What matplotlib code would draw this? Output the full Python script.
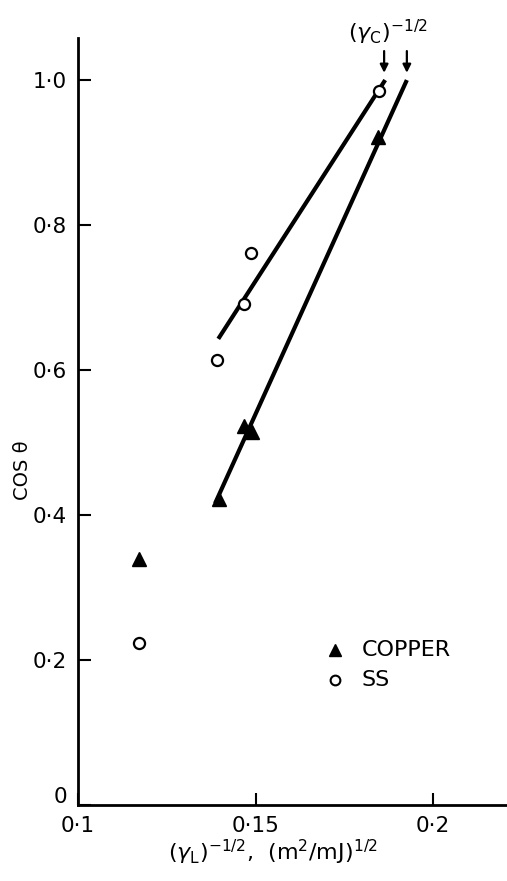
import matplotlib
matplotlib.use("Agg")
import matplotlib.pyplot as plt
from matplotlib.transforms import offset_copy

# Surface tension data: cos(theta) against (gamma_L)^(-1/2)
x_copper = [0.1172, 0.1398, 0.1468, 0.1489, 0.1845]
y_copper = [0.340, 0.422, 0.523, 0.515, 0.921]
x_ss = [0.1172, 0.1392, 0.1468, 0.1487, 0.1848]
y_ss = [0.223, 0.614, 0.691, 0.761, 0.985]

# Straight-line fits, drawn to where cos(theta) = 1
fit_copper_x = [0.1386, 0.1926]
fit_copper_y = [0.416, 1.0]
fit_ss_x = [0.1395, 0.1865]
fit_ss_y = [0.643, 1.0]

# Intercepts at cos(theta) = 1, giving (gamma_C)^(-1/2)
gamma_c_intercepts = [0.1862, 0.1926]

x_ticks = [0.1, 0.15, 0.2]
x_ticklabels = ["0\u00b71", "0\u00b715", "0\u00b72"]
y_ticks = [0.0, 0.2, 0.4, 0.6, 0.8, 1.0]
y_ticklabels = ["0", "0\u00b72", "0\u00b74", "0\u00b76", "0\u00b78", "1\u00b70"]

series_names = ["COPPER", "SS"]

plt.rcParams["font.family"] = ["DejaVu Sans"]
plt.rcParams["mathtext.fontset"] = "dejavusans"

FS = 15.5

fig = plt.figure(figsize=(5.07, 8.81), dpi=100)
ax = fig.add_axes([78 / 507, 76 / 881, 1 - 78 / 507, (805 - 38) / 881])

ax.set_xlim(0.1, 0.2208)
ax.set_ylim(0.0, 1.058)

for s in ["top", "right"]:
    ax.spines[s].set_visible(False)
for s in ["left", "bottom"]:
    ax.spines[s].set_linewidth(2.0)
    ax.spines[s].set_color("black")

ax.set_xticks(x_ticks)
ax.set_xticklabels(x_ticklabels, fontsize=FS)
ax.set_yticks(y_ticks)
ax.set_yticklabels(y_ticklabels, fontsize=FS)
ax.tick_params(axis="both", direction="in", length=9, width=1.5)
ax.tick_params(axis="y", pad=8)
ax.tick_params(axis="x", pad=8)

# lift the "0" on the y axis clear of the x tick labels
zero_lbl = ax.get_yticklabels()[0]
zero_lbl.set_transform(offset_copy(zero_lbl.get_transform(), fig=fig, x=0, y=10, units="dots"))

# Fit lines
ax.plot(fit_copper_x, fit_copper_y, color="black", lw=3.0, solid_capstyle="butt")
ax.plot(fit_ss_x, fit_ss_y, color="black", lw=3.0, solid_capstyle="butt")

# Data points
ax.plot(x_copper, y_copper, linestyle="none", marker="^", markersize=10,
        color="black", clip_on=False)
ax.plot(x_ss, y_ss, linestyle="none", marker="o", markersize=8,
        markerfacecolor="white", markeredgecolor="black", markeredgewidth=1.6,
        clip_on=False)

# Arrows marking the intercepts
for xi in gamma_c_intercepts:
    ax.annotate("", xy=(xi, 1.010), xytext=(xi, 1.040),
                arrowprops=dict(arrowstyle="-|>", color="black", lw=1.6,
                                mutation_scale=12, shrinkA=0, shrinkB=0),
                annotation_clip=False)
ax.text(0.1872, 1.066, r"$(\gamma_{\mathrm{C}})^{-1/2}$", fontsize=16,
        ha="center", va="center", clip_on=False)

ax.set_ylabel("COS \u03b8", fontsize=14)
ax.yaxis.set_label_coords(-0.108, 0.437)
ax.set_xlabel(r"$(\gamma_{\mathrm{L}})^{-1/2}$,  $(\mathrm{m}^{2}/\mathrm{mJ})^{1/2}$",
              fontsize=16)
ax.xaxis.set_label_coords(0.4545, -0.043)

# Key
key_marker_x = 0.599
key_text_x = 0.662
key_rows_y = [0.202, 0.163]
ax.plot([key_marker_x], [key_rows_y[0]], transform=ax.transAxes, linestyle="none",
        marker="^", markersize=9, color="black")
ax.plot([key_marker_x], [key_rows_y[1]], transform=ax.transAxes, linestyle="none",
        marker="o", markersize=7, markerfacecolor="white", markeredgecolor="black",
        markeredgewidth=1.5)
for name, yk in zip(series_names, key_rows_y):
    ax.text(key_text_x, yk, name, transform=ax.transAxes, fontsize=16,
            ha="left", va="center")

fig.savefig("out.png", dpi=100)
